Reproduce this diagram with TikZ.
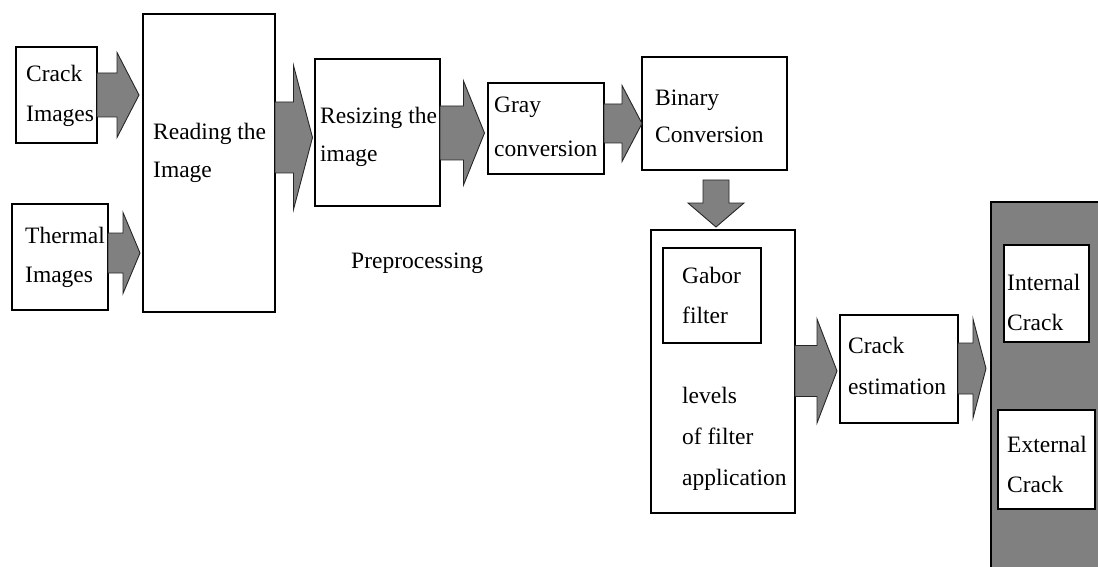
\documentclass[tikz,border=0pt]{standalone}
\usepackage{fontspec}
\setmainfont{Liberation Serif}
\usetikzlibrary{calc}
\definecolor{arrgray}{HTML}{808080}
\tikzset{
  box/.style={draw=black, line width=1.3pt, fill=white, inner sep=0pt, outer sep=0pt, anchor=north west},
  darkbox/.style={box, fill=arrgray},
  lab/.style={anchor=base west, align=left, inner sep=0pt, font=\fontsize{23.5}{40}\selectfont},
  arrowst/.style={draw=black!85, line width=0.9pt, fill=arrgray, line join=miter},
}
% horizontal block arrow: src, dst, yc, shaft half, head half, head length, gap before dst
\newcommand{\harrow}[7]{%
  \coordinate (s) at (#1.east |- 0,#3);
  \coordinate (t) at ($(#2.west |- 0,#3)+(-#7,0)$);
  \coordinate (h) at ($(t)+(-#6,0)$);
  \draw[arrowst] ($(s)+(0,-#4)$) -- ($(h)+(0,-#4)$) -- ($(h)+(0,-#5)$) -- (t)
     -- ($(h)+(0,#5)$) -- ($(h)+(0,#4)$) -- ($(s)+(0,#4)$) -- cycle;}
% vertical block arrow: src, dst, xc, shaft half, head half, head length, gap after src, gap before dst
\newcommand{\varrow}[8]{%
  \coordinate (s) at ($(#1.south -| #3,0)+(0,#7)$);
  \coordinate (t) at ($(#2.north -| #3,0)+(0,-#8)$);
  \coordinate (h) at ($(t)+(0,-#6)$);
  \draw[arrowst] ($(s)+(-#4,0)$) -- ($(h)+(-#4,0)$) -- ($(h)+(-#5,0)$) -- (t)
     -- ($(h)+(#5,0)$) -- ($(h)+(#4,0)$) -- ($(s)+(#4,0)$) -- cycle;}
\begin{document}
\begin{tikzpicture}[x=1pt, y=-1pt]
\useasboundingbox (0,0) rectangle (1098,567);
\clip (0,0) rectangle (1098,567);

% boxes
\node[box, minimum width=81pt,  minimum height=96pt]  (crack)    at (16,47)   {};
\node[box, minimum width=96pt,  minimum height=106pt] (thermal)  at (12,204)  {};
\node[box, minimum width=132pt, minimum height=298pt] (reading)  at (143,14)  {};
\node[box, minimum width=125pt, minimum height=147pt] (resize)   at (315,59)  {};
\node[box, minimum width=116pt, minimum height=91pt]  (gray)     at (488,83)  {};
\node[box, minimum width=145pt, minimum height=113pt] (binary)   at (642,57)  {};
\node[box, minimum width=144pt, minimum height=283pt] (gaborout) at (651,230) {};
\node[box, minimum width=98pt,  minimum height=95pt]  (gabor)    at (663,248) {};
\node[box, minimum width=118pt, minimum height=108pt] (crackest) at (840,315) {};
\node[darkbox, minimum width=113pt, minimum height=373pt] (result) at (991,202) {};
\node[box, minimum width=85pt,  minimum height=97pt]  (internal) at (1004,245) {};
\node[box, minimum width=97pt,  minimum height=99pt]  (external) at (998,410) {};

% labels (anchored at the baseline of the last line)
\node[lab] (tcrack)    at (26,122)   {Crack\\Images};
\node[lab] (tthermal)  at (25,282)   {Thermal\\[-1pt]Images};
\node[lab] (treading)  at (153,178)  {Reading the\\[-2pt]Image};
\node[lab] (tresize)   at (320,162)  {Resizing the\\[-1pt]image};
\node[lab] (tgray)     at (494,157)  {Gray\\[4pt]conversion};
\node[lab] (tbinary)   at (655,143)  {Binary\\[-2pt]Conversion};
\node[lab] (tgabor)    at (682,323)  {Gabor\\filter};
\node[lab] (tlevels)   at (682,485)  {levels\\[1pt]of filter\\[1pt]application};
\node[lab] (tcrackest) at (848,394)  {Crack\\[1pt]estimation};
\node[lab] (tinternal) at (1007,330) {Internal\\Crack};
\node[lab] (texternal) at (1007,492) {External\\Crack};
\node[lab] (tprep)     at (351,268)  {Preprocessing};

% block arrows
\harrow{crack}{reading}{95}{22}{42.5}{22}{4}
\harrow{thermal}{reading}{253}{20}{40.5}{17}{3}
\harrow{reading}{resize}{137.5}{35.5}{72}{19}{2.5}
\harrow{resize}{gray}{133}{27}{52}{21}{3.5}
\harrow{gray}{binary}{123.5}{19.5}{38}{20}{0}
\varrow{binary}{gaborout}{716}{13}{28}{24}{10}{3}
\harrow{gaborout}{crackest}{371}{25.5}{52}{20}{3}
\harrow{crackest}{result}{368.5}{25.5}{49.5}{13}{5}
\end{tikzpicture}
\end{document}
